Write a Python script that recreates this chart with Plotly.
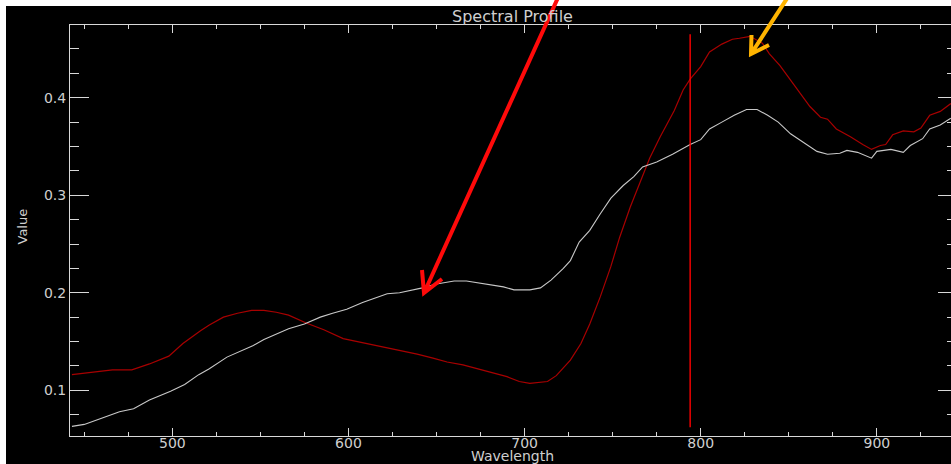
import plotly.graph_objects as go

# ---- data ----
wl_white = [443, 450, 461, 470, 478, 487, 499, 507, 515, 521, 531, 537, 546, 552, 561, 566,
            575, 584, 591, 599, 608, 618, 622, 629, 637, 642, 650, 660, 667, 675, 682, 688,
            694, 703, 709, 715, 722, 726, 731, 737, 743, 749, 756, 762, 767, 775, 784, 794,
            800, 805, 812, 819, 826, 832, 838, 844, 851, 858, 866, 872, 879, 883, 889, 897,
            900, 908, 915, 919, 926, 930, 936, 942]
val_white = [0.063, 0.065, 0.072, 0.078, 0.081, 0.090, 0.099, 0.106, 0.116, 0.122, 0.134, 0.139,
             0.146, 0.152, 0.159, 0.163, 0.168, 0.175, 0.179, 0.183, 0.190, 0.196, 0.199, 0.200,
             0.203, 0.205, 0.209, 0.212, 0.212, 0.210, 0.208, 0.206, 0.203, 0.203, 0.205, 0.213,
             0.225, 0.233, 0.252, 0.264, 0.281, 0.297, 0.310, 0.319, 0.329, 0.334, 0.342, 0.352,
             0.357, 0.368, 0.375, 0.382, 0.388, 0.388, 0.382, 0.375, 0.363, 0.355, 0.345, 0.342,
             0.343, 0.346, 0.344, 0.338, 0.345, 0.347, 0.344, 0.351, 0.358, 0.368, 0.372, 0.379]

wl_red = [443, 453, 466, 477, 487, 498, 506, 516, 521, 529, 537, 545, 552, 559, 566, 576,
          586, 597, 608, 620, 631, 639, 648, 656, 665, 675, 685, 690, 697, 703, 713, 718,
          726, 732, 737, 743, 749, 754, 760, 766, 771, 777, 785, 790, 794, 800, 805, 812,
          818, 822, 828, 835, 839, 845, 851, 856, 862, 868, 872, 877, 885, 892, 897, 902,
          905, 909, 915, 921, 925, 930, 936, 942]
val_red = [0.116, 0.118, 0.121, 0.121, 0.127, 0.135, 0.148, 0.161, 0.167, 0.175, 0.179, 0.182,
           0.182, 0.180, 0.177, 0.169, 0.162, 0.153, 0.149, 0.144, 0.140, 0.137, 0.133, 0.129,
           0.126, 0.121, 0.116, 0.114, 0.109, 0.107, 0.109, 0.115, 0.131, 0.148, 0.168, 0.196,
           0.227, 0.257, 0.288, 0.315, 0.338, 0.360, 0.387, 0.408, 0.419, 0.432, 0.447, 0.455,
           0.460, 0.461, 0.463, 0.456, 0.445, 0.433, 0.418, 0.406, 0.391, 0.380, 0.378, 0.368,
           0.360, 0.352, 0.347, 0.351, 0.352, 0.362, 0.366, 0.365, 0.369, 0.382, 0.386, 0.394]

cursor_wl = [794, 794]
cursor_val = [0.062, 0.465]

x_range = [441.9, 942.1]
y_range = [0.0531, 0.4746]

# ---- layout geometry ----
W, H = 951, 464
L, R, T, B = 70, 0, 25, 28
PW, PH = W - L - R, H - T - B


def px_x(px):
    return (px - L) / PW


def px_y(py):
    return (H - B - py) / PH


AX = "#d8d8d8"
TXT = "#cfcfcf"
FONT = "DejaVu Sans"

fig = go.Figure()
fig.add_trace(go.Scatter(x=wl_red, y=val_red, mode="lines",
                         line=dict(color="#a80000", width=1.2), hoverinfo="skip"))
fig.add_trace(go.Scatter(x=wl_white, y=val_white, mode="lines",
                         line=dict(color="#c8c8c8", width=1.1), hoverinfo="skip"))
fig.add_trace(go.Scatter(x=cursor_wl, y=cursor_val, mode="lines",
                         line=dict(color="#ff0000", width=1.4), hoverinfo="skip"))
fig.add_trace(go.Scatter(x=[None], y=[None], yaxis="y2", mode="lines", hoverinfo="skip"))

minor_x = dict(dtick=25, tick0=0, ticks="inside", ticklen=4, tickcolor=AX, showgrid=False)
minor_y = dict(dtick=0.025, tick0=0, ticks="inside", ticklen=9, tickcolor=AX, showgrid=False)

fig.update_layout(
    width=W, height=H,
    margin=dict(l=L, r=R, t=T, b=B, pad=0),
    paper_bgcolor="#000000", plot_bgcolor="#000000",
    showlegend=False,
    xaxis=dict(range=x_range, dtick=100, tick0=0, ticks="inside", ticklen=8, tickcolor=AX,
               showline=True, linecolor=AX, linewidth=1, mirror="ticks",
               showgrid=False, zeroline=False, minor=minor_x, ticklabelstandoff=-6,
               tickfont=dict(family=FONT, size=14, color=TXT)),
    yaxis=dict(range=y_range, dtick=0.1, tick0=0, tickformat=".1f", ticks="inside", ticklen=19,
               tickcolor=AX, showline=True, linecolor=AX, linewidth=1, mirror=False,
               showgrid=False, zeroline=False, minor=minor_y,
               tickfont=dict(family=FONT, size=14, color=TXT)),
    yaxis2=dict(range=y_range, overlaying="y", side="right", dtick=0.1, tick0=0,
                ticks="inside", ticklen=13, tickcolor=AX, showline=False,
                showticklabels=False, showgrid=False, zeroline=False,
                minor=dict(dtick=0.025, tick0=0, ticks="inside", ticklen=4,
                           tickcolor=AX, showgrid=False)),
    title=dict(text="Spectral Profile", x=512.5 / W, xanchor="center",
               y=1 - 16 / H, yanchor="middle",
               font=dict(family=FONT, size=16, color=TXT)),
)

fig.add_annotation(text="Wavelength", xref="paper", yref="paper",
                   x=px_x(512), y=px_y(456), xanchor="center", yanchor="middle",
                   showarrow=False, font=dict(family=FONT, size=14, color=TXT))
fig.add_annotation(text="Value", xref="paper", yref="paper", textangle=-90,
                   x=px_x(22.5), y=px_y(227), xanchor="center", yanchor="middle",
                   showarrow=False, font=dict(family=FONT, size=13, color=TXT))

# white frame strips of the screenshot
fig.add_shape(type="rect", xref="paper", yref="paper", layer="above",
              x0=px_x(-5), x1=px_x(956), y0=px_y(6), y1=px_y(-5),
              fillcolor="#ffffff", line=dict(width=0))
fig.add_shape(type="rect", xref="paper", yref="paper", layer="above",
              x0=px_x(-5), x1=px_x(6), y0=px_y(470), y1=px_y(-5),
              fillcolor="#ffffff", line=dict(width=0))


def arrow_path(start, tip, w1, w2):
    s = lambda p: f"{px_x(p[0]):.5f},{px_y(p[1]):.5f}"
    return f"M {s(start)} L {s(tip)} M {s(w1)} L {s(tip)} L {s(w2)}"


# red callout arrow
fig.add_shape(type="path", xref="paper", yref="paper", layer="above",
              path=arrow_path((566, -20), (424, 293), (422, 270), (442, 279)),
              line=dict(color="#ff0a0a", width=4))
# orange callout arrow
fig.add_shape(type="path", xref="paper", yref="paper", layer="above",
              path=arrow_path((799, -20), (751, 54), (751.5, 35), (769, 45)),
              line=dict(color="#ffb400", width=4))

fig.write_html(
    "out.html",
    config={"displayModeBar": False},
    post_script="document.body.style.margin='0';"
                "document.documentElement.style.overflow='hidden';",
)
